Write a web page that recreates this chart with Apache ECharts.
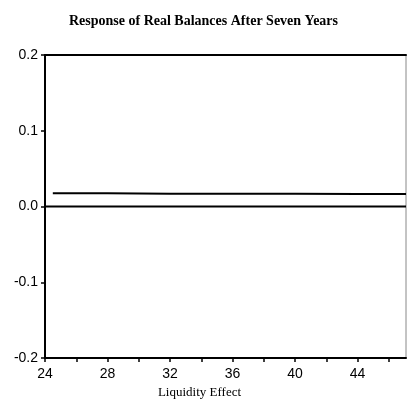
<!DOCTYPE html>
<html>
<head>
<meta charset="utf-8">
<script src="https://cdn.jsdelivr.net/npm/echarts@6/dist/echarts.min.js"></script>
<style>
  html, body { margin: 0; padding: 0; background: #fff; }
  #chart { width: 407px; height: 404px; }
</style>
</head>
<body>
<div id="chart"></div>
<script>
// liquidity effect values (x) and response of real balances (y)
const liquidity = [24.5, 28, 32, 36, 40, 44, 47.1];
const response = [0.0175, 0.0175, 0.017, 0.017, 0.017, 0.0165, 0.0165];
const zeroX = [24, 47.1];
const zeroY = [0, 0];
const yTicks = ['-0.2', '-0.1', '0.0', '0.1', '0.2'];

const chart = echarts.init(document.getElementById('chart'));

const option = {
  animation: false,
  backgroundColor: '#fff',
  title: {
    text: 'Response of Real Balances After Seven Years',
    left: 'center',
    top: 9,
    textStyle: {
      fontFamily: 'Liberation Serif',
      fontWeight: 'bold',
      fontSize: 14,
      color: '#000'
    }
  },
  grid: {
    left: 45,
    right: 1,
    top: 55,
    bottom: 45,
    show: true,
    borderColor: '#888',
    borderWidth: 1
  },
  xAxis: [
    {
      type: 'value',
      min: 24,
      max: 47.1,
      interval: 2,
      name: 'Liquidity Effect',
      nameLocation: 'middle',
      nameGap: 27,
      nameTextStyle: {
        fontFamily: 'Liberation Serif',
        fontSize: 13,
        color: '#000',
        padding: [0, 52, 0, 0]
      },
      axisLine: { onZero: false, lineStyle: { color: '#000', width: 2 } },
      axisTick: { length: 4, lineStyle: { color: '#000', width: 1.5 } },
      axisLabel: {
        color: '#000',
        fontFamily: 'Liberation Sans',
        fontSize: 14,
        margin: 9,
        showMaxLabel: false,
        formatter: v => (v % 4 === 0 ? String(v) : '')
      },
      splitLine: { show: false }
    },
    {
      type: 'value',
      position: 'top',
      min: 24,
      max: 47.1,
      axisLine: { show: true, onZero: false, lineStyle: { color: '#000', width: 2 } },
      axisTick: { show: false },
      axisLabel: { show: false },
      splitLine: { show: false }
    }
  ],
  yAxis: {
    type: 'value',
    min: -0.2,
    max: 0.2,
    interval: 0.1,
    axisLine: { show: true, onZero: false, lineStyle: { color: '#000', width: 2 } },
    axisTick: { show: true, length: 4, lineStyle: { color: '#000', width: 1.5 } },
    axisLabel: {
      color: '#000',
      fontFamily: 'Liberation Sans',
      fontSize: 14,
      margin: 7,
      formatter: v => yTicks[Math.round((v + 0.2) * 10)]
    },
    splitLine: { show: false }
  },
  series: [
    {
      type: 'line',
      data: liquidity.map((x, i) => [x, response[i]]),
      symbol: 'none',
      lineStyle: { color: '#000', width: 2 }
    },
    {
      type: 'line',
      data: zeroX.map((x, i) => [x, zeroY[i]]),
      symbol: 'none',
      lineStyle: { color: '#000', width: 2 }
    }
  ]
};

chart.setOption(option);
</script>
</body>
</html>
